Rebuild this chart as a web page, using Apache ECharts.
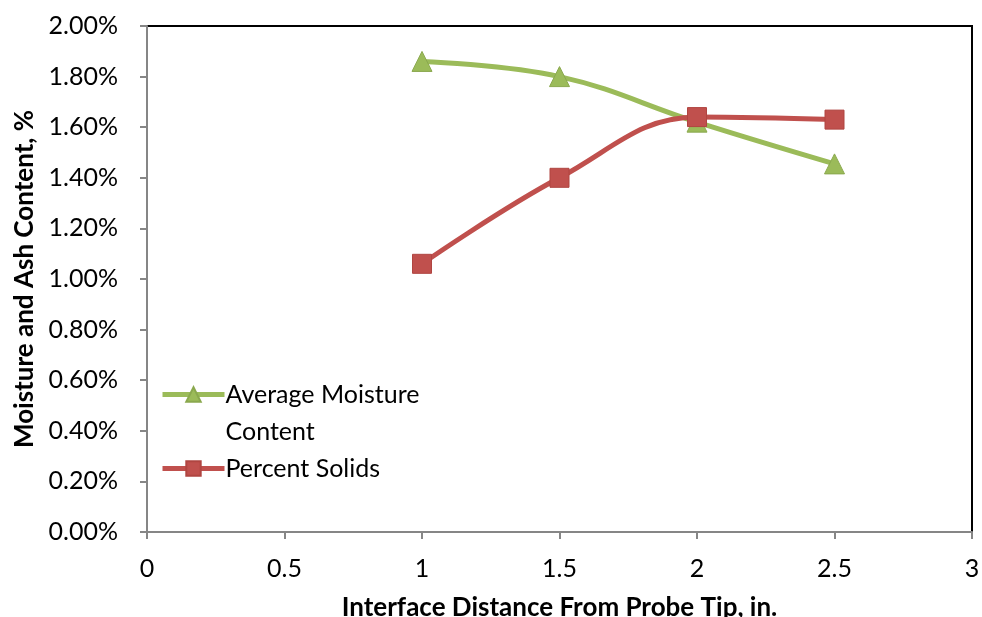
<!DOCTYPE html>
<html><head><meta charset="utf-8">
<script src="https://cdn.jsdelivr.net/npm/echarts@6/dist/echarts.min.js"></script>
<style>html,body{margin:0;padding:0;background:#fff}#c{width:982px;height:617px}</style>
</head><body><div id="c"></div>
<script>
const xTicks = [0, 0.5, 1, 1.5, 2, 2.5, 3];
const distance = [1, 1.5, 2, 2.5];
const moisture = [1.86, 1.80, 1.62, 1.455];
const solids = [1.06, 1.40, 1.64, 1.63];
const seriesNames = ['Average Moisture Content', 'Percent Solids'];

const chart = echarts.init(document.getElementById('c'));
const font = 'Lato, "Open Sans", sans-serif';
chart.setOption({
  animation: false,
  grid: {left: 147, right: 10, top: 26, bottom: 85, outerBoundsMode: 'none', containLabel: false,
         show: true, borderColor: '#000', borderWidth: 2},
  legend: {
    orient: 'vertical', left: 155, top: 334, itemGap: 0, itemWidth: 62, itemHeight: 18,
    data: seriesNames,
    lineStyle: {width: 5},
    formatter: n => n === seriesNames[0] ? '\nAverage Moisture\nContent' : n,
    textStyle: {fontFamily: font, fontSize: 25, color: '#000', lineHeight: 37, padding: [0,0,0,-4]}
  },
  xAxis: {
    type: 'value', min: 0, max: 3, interval: 0.5,
    name: 'Interface Distance From Probe Tip, in.', nameLocation: 'middle', nameGap: 63,
    nameTextStyle: {fontFamily: font, fontSize: 26, fontWeight: 'bold', color: '#000'},
    axisLine: {show: true, lineStyle: {color: '#868686', width: 2}},
    axisTick: {show: true, length: 7, lineStyle: {color: '#868686', width: 2}},
    splitLine: {show: false},
    axisLabel: {fontFamily: font, fontSize: 25, color: '#000', margin: 24, formatter: v => String(v)}
  },
  yAxis: {
    type: 'value', min: 0, max: 2, interval: 0.2,
    name: 'Moisture and Ash Content, %', nameLocation: 'middle', nameGap: 106,
    nameTextStyle: {fontFamily: font, fontSize: 26, fontWeight: 'bold', color: '#000'},
    axisLine: {show: true, lineStyle: {color: '#868686', width: 2}},
    axisTick: {show: true, length: 7, lineStyle: {color: '#868686', width: 2}},
    splitLine: {show: false},
    axisLabel: {fontFamily: font, fontSize: 25, color: '#000', margin: 29, formatter: v => v.toFixed(2) + '%'}
  },
  series: [
    {name: seriesNames[0], type: 'line', smooth: 0.4, data: distance.map((x,i)=>[x, moisture[i]]),
     symbol: 'triangle', symbolSize: 20, lineStyle: {color: '#9BBB59', width: 5},
     itemStyle: {color: '#9BBB59', borderColor: '#8AA84E', borderWidth: 1}},
    {name: seriesNames[1], type: 'line', smooth: 0.4, data: distance.map((x,i)=>[x, solids[i]]),
     symbol: 'rect', symbolSize: 19, lineStyle: {color: '#C0504D', width: 5},
     itemStyle: {color: '#C0504D', borderColor: '#B04541', borderWidth: 1}}
  ]
});
</script></body></html>
